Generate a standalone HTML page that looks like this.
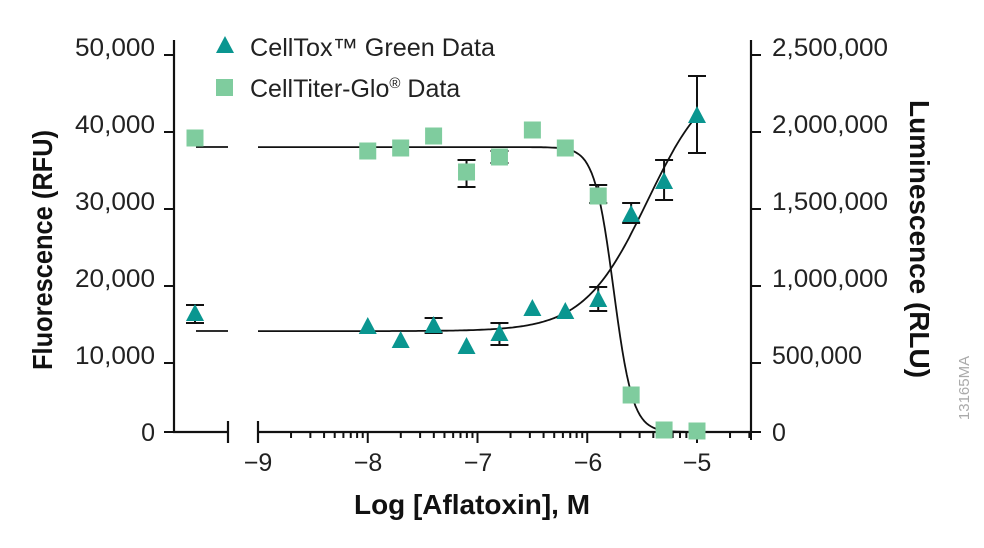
<!DOCTYPE html>
<html><head><meta charset="utf-8"><style>
html,body{margin:0;padding:0;background:#fff;}
svg{display:block;font-family:"Liberation Sans",sans-serif;}
.t{font-size:25px;fill:#222;}
.b{font-size:28px;font-weight:bold;fill:#111;}
</style></head><body>
<svg id="s" width="984" height="548" viewBox="0 0 984 548" xmlns="http://www.w3.org/2000/svg">
<g stroke="#111" stroke-width="2.2" fill="none">
<line x1="174" y1="40" x2="174" y2="433"/>
<line x1="751" y1="40" x2="751" y2="433"/>
<line x1="173" y1="432" x2="228" y2="432"/>
<line x1="228" y1="421" x2="228" y2="443"/>
<line x1="258" y1="432" x2="752" y2="432"/>
<line x1="258" y1="421" x2="258" y2="443"/>
</g>
<g id="ticks" stroke="#111" stroke-width="2"></g>
<g class="t" text-anchor="end">
<text x="155" y="56" textLength="80" lengthAdjust="spacingAndGlyphs">50,000</text>
<text x="155" y="133" textLength="80" lengthAdjust="spacingAndGlyphs">40,000</text>
<text x="155" y="210" textLength="80" lengthAdjust="spacingAndGlyphs">30,000</text>
<text x="155" y="287" textLength="80" lengthAdjust="spacingAndGlyphs">20,000</text>
<text x="155" y="364" textLength="80" lengthAdjust="spacingAndGlyphs">10,000</text>
<text x="155" y="441">0</text>
</g>
<g class="t">
<text x="772" y="56" textLength="116" lengthAdjust="spacingAndGlyphs">2,500,000</text>
<text x="772" y="133" textLength="116" lengthAdjust="spacingAndGlyphs">2,000,000</text>
<text x="772" y="210" textLength="116" lengthAdjust="spacingAndGlyphs">1,500,000</text>
<text x="772" y="287" textLength="116" lengthAdjust="spacingAndGlyphs">1,000,000</text>
<text x="772" y="364" textLength="90" lengthAdjust="spacingAndGlyphs">500,000</text>
<text x="772" y="441">0</text>
</g>
<g class="t" text-anchor="middle">
<text x="258" y="471">−9</text><text x="368" y="471">−8</text><text x="478" y="471">−7</text>
<text x="588" y="471">−6</text><text x="697" y="471">−5</text>
</g>
<text class="b" x="354" y="514" textLength="236" lengthAdjust="spacingAndGlyphs">Log [Aflatoxin], M</text>
<text class="b" transform="translate(52,370) rotate(-90)" textLength="240" lengthAdjust="spacingAndGlyphs">Fluorescence (RFU)</text>
<text class="b" transform="translate(910,100) rotate(90)" textLength="278" lengthAdjust="spacingAndGlyphs">Luminescence (RLU)</text>
<text transform="translate(969,388) rotate(-90)" text-anchor="middle" font-size="15" fill="#aaa">13165MA</text>
<g stroke="#111" stroke-width="1.8" fill="none">
<line x1="196" y1="147" x2="228" y2="147"/>
<line x1="196" y1="331" x2="228" y2="331"/>
<path id="c1"/><path id="c2"/>
</g>
<g id="err" stroke="#111" stroke-width="2" fill="none"></g>
<g id="pts"></g>
<polygon points="225,36 216,53 234,53" fill="#0a9690"/>
<text class="t" x="250" y="56" textLength="245" lengthAdjust="spacingAndGlyphs">CellTox™ Green Data</text>
<rect x="216" y="79" width="17" height="17" fill="#7fcc9e"/>
<text class="t" x="250" y="97">CellTiter-Glo<tspan font-size="15" dy="-9">®</tspan><tspan dy="9"> Data</tspan></text>
</svg>
<script>
var ns="http://www.w3.org/2000/svg";
function X(L){return 258+(L+9)*109.75;}
function Y(v){return 432-v*0.0077;}
function el(p,t,a){var e=document.createElementNS(ns,t);for(var k in a)e.setAttribute(k,a[k]);document.getElementById(p).appendChild(e);}
[55,132,209,286,363,432].forEach(function(y){el('ticks','line',{x1:164,y1:y,x2:174,y2:y});el('ticks','line',{x1:751,y1:y,x2:761,y2:y});});
for(var d=-9;d<-4;d++){for(var m=1;m<10;m++){var x=X(d+Math.log10(m));if(x>752)break;var len=(m==1)?11:6;if(m==1&&d==-9)continue;el('ticks','line',{x1:x,y1:432,x2:x,y2:432+len});}}
el('ticks','line',{x1:751,y1:432,x2:751,y2:440});
var p1="",p2="";
for(var L=-9;L<=-4.9999;L+=0.02){
 var v1=37000/(1+Math.pow(10,5*(L+5.76)));
 var v2=13100+33900/(1+Math.pow(10,1.5*(-5.45-L)));
 p1+=(p1?"L":"M")+X(L).toFixed(1)+","+Y(v1).toFixed(1);
 p2+=(p2?"L":"M")+X(L).toFixed(1)+","+Y(v2).toFixed(1);
}
document.getElementById('c1').setAttribute('d',p1);
document.getElementById('c2').setAttribute('d',p2);
function eb(x,y1,y2){el('err','line',{x1:x,y1:y1,x2:x,y2:y2});el('err','line',{x1:x-9,y1:y1,x2:x+9,y2:y1});el('err','line',{x1:x-9,y1:y2,x2:x+9,y2:y2});}
var Ls=[-8,-7.7,-7.4,-7.1,-6.8,-6.5,-6.2,-5.9,-5.6,-5.3,-5];
var sq=[151,148,136,172,157,130,148,196,395,430,431];
var tr=[327,341,326,347,334,309,312,300,215,182,116];
eb(195,305,323);eb(X(-7.4),318,333);eb(X(-6.8),323,345);eb(X(-5.9),287,311);eb(X(-5.6),203,223);eb(X(-5.3),160,200);eb(X(-5),76,153);
eb(X(-7.1),160,187);eb(X(-6.8),151,163);eb(X(-5.9),185,203);
function s(x,y){el('pts','rect',{x:x-8.5,y:y-8.5,width:17,height:17,fill:'#7fcc9e'});}
function t(x,y){el('pts','polygon',{points:(x)+","+(y-10)+" "+(x-9)+","+(y+7)+" "+(x+9)+","+(y+7),fill:'#0a9690'});}
s(195,138);t(195,314);
for(var i=0;i<Ls.length;i++){s(X(Ls[i]),sq[i]);t(X(Ls[i]),tr[i]);}
</script>
</body></html>
